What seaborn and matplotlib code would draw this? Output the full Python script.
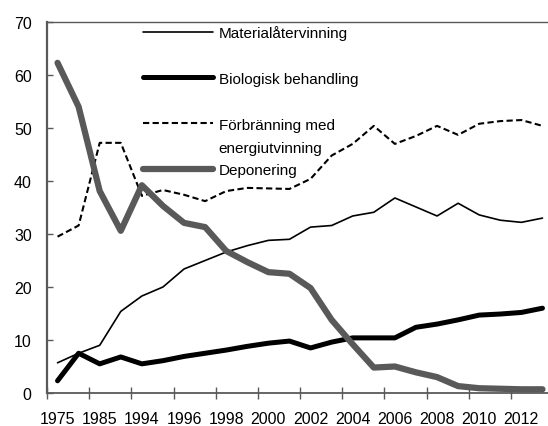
import matplotlib
matplotlib.use("Agg")
import matplotlib.pyplot as plt
import seaborn as sns
import pandas as pd
from matplotlib.ticker import FixedLocator, FixedFormatter, NullFormatter

# kategorier (år) - 1975-1990 i femårssteg, sedan varje år
ar = ["1975", "1980", "1985", "1990", "1994", "1995", "1996", "1997", "1998",
      "1999", "2000", "2001", "2002", "2003", "2004", "2005", "2006", "2007",
      "2008", "2009", "2010", "2011", "2012", "2013"]

materialatervinning = [5.7, 7.5, 9.0, 15.4, 18.3, 20.0, 23.4, 25.0, 26.6, 27.8,
                       28.8, 29.0, 31.3, 31.6, 33.4, 34.1, 36.8, 35.1, 33.4, 35.8,
                       33.6, 32.6, 32.2, 33.0]
biologisk = [2.3, 7.5, 5.5, 6.8, 5.5, 6.1, 6.9, 7.5, 8.1, 8.8,
             9.4, 9.8, 8.5, 9.6, 10.4, 10.4, 10.4, 12.4, 13.0, 13.8,
             14.7, 14.9, 15.2, 16.0]
forbranning = [29.5, 31.6, 47.2, 47.2, 37.2, 38.3, 37.4, 36.2, 38.1, 38.7,
               38.6, 38.5, 40.4, 44.8, 47.0, 50.4, 47.0, 48.5, 50.4, 48.7,
               50.8, 51.3, 51.5, 50.4]
deponering = [62.3, 54.0, 38.1, 30.6, 39.2, 35.3, 32.1, 31.3, 26.8, 24.7,
              22.8, 22.5, 19.8, 13.8, 9.2, 4.8, 5.0, 3.9, 3.0, 1.3,
              0.9, 0.8, 0.7, 0.7]

etiketter = ["Materialåtervinning", "Biologisk behandling", "Förbränning med", "Deponering"]
GRA = "#595959"

sns.set_theme(style="white")
plt.rcParams["font.family"] = ["Liberation Sans", "DejaVu Sans"]
plt.rcParams["font.size"] = 11
plt.rcParams["text.color"] = "black"

df = pd.DataFrame({"pos": range(len(ar)), "ar": ar,
                   "mat": materialatervinning, "bio": biologisk,
                   "forb": forbranning, "dep": deponering})

fig = plt.figure(figsize=(5.48, 4.27), dpi=100)
ax = fig.add_axes([47 / 548, 33 / 427, 506 / 548, 371 / 427])

sns.lineplot(data=df, x="pos", y="mat", ax=ax, color="black", linewidth=1.2,
             label=etiketter[0])
sns.lineplot(data=df, x="pos", y="bio", ax=ax, color="black", linewidth=3.6,
             solid_capstyle="round", solid_joinstyle="round", label=etiketter[1])
sns.lineplot(data=df, x="pos", y="forb", ax=ax, color="black", linewidth=1.5,
             dashes=(3, 1.6), label=etiketter[2])
sns.lineplot(data=df, x="pos", y="dep", ax=ax, color=GRA, linewidth=4.5,
             solid_capstyle="round", solid_joinstyle="round", label=etiketter[3])

ax.set_xlim(-0.5, len(ar) - 0.5)
ax.set_ylim(0, 70)
ax.set_yticks(range(0, 71, 10))
ax.set_xlabel("")
ax.set_ylabel("")

# tickmarkeringar mellan kategorierna, etiketter på varannan kategori
ax.xaxis.set_major_locator(FixedLocator([i - 0.5 for i in range(0, len(ar) + 1, 2)]))
ax.xaxis.set_major_formatter(NullFormatter())
ax.xaxis.set_minor_locator(FixedLocator(list(range(0, len(ar), 2))))
ax.xaxis.set_minor_formatter(FixedFormatter(ar[::2]))
ax.tick_params(axis="x", which="major", direction="inout", length=8, width=1, color=GRA)
ax.tick_params(axis="x", which="minor", length=0, pad=13, labelsize=11.5, labelcolor="black")
ax.tick_params(axis="y", direction="in", length=4.5, width=1, color=GRA, pad=11,
               labelsize=11.5, labelcolor="black")
ax.tick_params(left=True, bottom=True)

for s in ["left", "bottom", "top"]:
    ax.spines[s].set_color(GRA)
ax.spines["left"].set_linewidth(1.6)
ax.spines["bottom"].set_linewidth(1.3)
ax.spines["top"].set_linewidth(1.0)
ax.spines["right"].set_visible(False)

leg = ax.legend(loc="upper left", bbox_to_anchor=(143 / 548, 1 - 26 / 427),
                bbox_transform=fig.transFigure, frameon=False, fontsize=11,
                handlelength=4.6, handletextpad=0.35, labelspacing=2.08,
                borderpad=0, borderaxespad=0)

fig.canvas.draw()
bb = leg.get_texts()[2].get_window_extent()
fig.text(bb.x0 / 548, (bb.y0 - 23) / 427, "energiutvinning", fontsize=11,
         ha="left", va="bottom")

fig.savefig("out.png", dpi=100)
